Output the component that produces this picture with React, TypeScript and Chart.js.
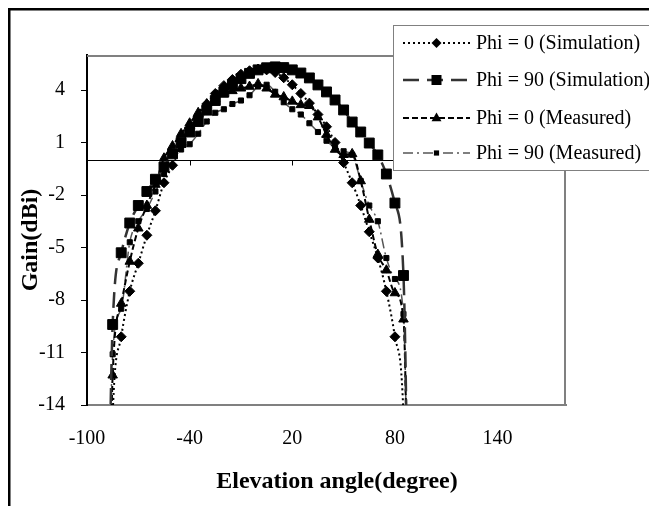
import React, { useEffect, useRef } from "react";
import { Chart, registerables } from "chart.js";

Chart.register(...registerables);

const angles = [-90, -85, -80, -75, -70, -65, -60, -55, -50, -45, -40, -35, -30, -25, -20, -15, -10, -5, 0, 5, 10, 15, 20, 25, 30, 35, 40, 45, 50, 55, 60, 65, 70, 75, 80, 85, 90];

const phi0Sim = [-40, -14.6, -10.1, -7.5, -5.9, -4.3, -2.9, -1.3, -0.3, 0.9, 1.8, 2.5, 3.2, 3.8, 4.25, 4.6, 4.9, 5.1, 5.2, 5.15, 5.0, 4.7, 4.3, 3.8, 3.25, 2.6, 1.9, 1.0, -0.15, -1.3, -2.6, -4.1, -5.6, -7.5, -10.1, -14.6, -40];
const phi90Sim = [-40, -9.4, -5.3, -3.6, -2.6, -1.8, -1.1, -0.4, 0.35, 1.0, 1.6, 2.2, 2.85, 3.4, 3.9, 4.3, 4.65, 4.95, 5.15, 5.27, 5.32, 5.28, 5.15, 4.97, 4.69, 4.29, 3.89, 3.43, 2.86, 2.17, 1.6, 0.97, 0.29, -0.8, -2.46, -6.6, -40];
const phi0Meas = [-40, -12.3, -8.2, -5.8, -3.9, -2.6, -1.4, 0.1, 0.8, 1.5, 2.1, 2.7, 3.2, 3.5, 3.75, 3.95, 4.1, 4.2, 4.35, 4.1, 3.75, 3.6, 3.35, 3.15, 3.1, 2.45, 1.45, 0.6, 0.3, 0.35, -1.2, -3.4, -5.4, -6.3, -7.6, -9.1, -40];
const phi90Meas = [-40, -11.1, -8.5, -4.7, -3.5, -2.8, -1.8, -0.8, 0.3, 0.6, 0.9, 1.5, 2.2, 2.7, 2.9, 3.2, 3.4, 3.7, 4.2, 4.3, 3.9, 3.3, 2.9, 2.6, 2.1, 1.6, 1.1, 0.7, 0.5, 0.3, -1.2, -2.6, -3.5, -5.6, -6.8, -8.8, -40];

const seriesLabels = ["Phi = 0 (Simulation)", "Phi = 90 (Simulation)", "Phi = 0 (Measured)", "Phi = 90 (Measured)"];
const xTicks = [-100, -40, 20, 80, 140];
const yTicks = [-14, -11, -8, -5, -2, 1, 4];
const xTitle = "Elevation angle(degree)";
const yTitle = "Gain(dBi)";

const FONT = "'Times New Roman', 'Liberation Serif', serif";
const W = 649;
const H = 498;

type Sty = { line: string; dash: number[]; lw: number; marker: string; size: number };
const styles: Sty[] = [
  { line: "#000000", dash: [2, 3], lw: 2, marker: "diamond", size: 5 },
  { line: "#333333", dash: [16, 8], lw: 2.5, marker: "square", size: 5 },
  { line: "#000000", dash: [6, 3], lw: 2, marker: "triangle", size: 5.5 },
  { line: "#555555", dash: [10, 4, 2, 4], lw: 1.5, marker: "smallsquare", size: 2.6 },
];

function drawMarker(ctx: CanvasRenderingContext2D, kind: string, x: number, y: number, s: number) {
  ctx.beginPath();
  if (kind === "diamond") {
    ctx.moveTo(x, y - s); ctx.lineTo(x + s, y); ctx.lineTo(x, y + s); ctx.lineTo(x - s, y); ctx.closePath();
  } else if (kind === "triangle") {
    ctx.moveTo(x, y - s); ctx.lineTo(x + s * 0.9, y + s * 0.6); ctx.lineTo(x - s * 0.9, y + s * 0.6); ctx.closePath();
  } else {
    ctx.rect(x - s, y - s, 2 * s, 2 * s);
  }
  ctx.fillStyle = "#000";
  ctx.fill();
}

const decorPlugin = {
  id: "decor",
  beforeDatasetsDraw(chart: any) {
    const { ctx, chartArea: a, scales } = chart;
    const x = scales.x;
    const y = scales.y;
    ctx.save();
    ctx.strokeStyle = "#808080";
    ctx.lineWidth = 2;
    ctx.beginPath();
    ctx.moveTo(a.left, a.top + 1);
    ctx.lineTo(a.right - 1, a.top + 1);
    ctx.lineTo(a.right - 1, a.bottom);
    ctx.stroke();
    const y0 = Math.round(y.getPixelForValue(0)) + 0.5;
    ctx.strokeStyle = "#000";
    ctx.lineWidth = 1;
    ctx.beginPath();
    ctx.moveTo(a.left, y0);
    ctx.lineTo(a.right, y0);
    for (const t of xTicks) {
      const px = Math.round(x.getPixelForValue(t)) + 0.5;
      ctx.moveTo(px, y0);
      ctx.lineTo(px, y0 + 5);
    }
    ctx.stroke();
    ctx.restore();
  },
  afterDraw(chart: any) {
    const { ctx, chartArea: a } = chart;
    ctx.save();
    // outer frame
    ctx.fillStyle = "#000";
    ctx.fillRect(0, 0, W, 2.5);
    ctx.fillRect(0, 0, 2.5, H);
    // axis titles
    ctx.fillStyle = "#000";
    ctx.font = `bold 24px ${FONT}`;
    ctx.textAlign = "center";
    ctx.textBaseline = "alphabetic";
    ctx.fillText(xTitle, 329, 480);
    ctx.save();
    ctx.translate(29, 232);
    ctx.rotate(-Math.PI / 2);
    ctx.textBaseline = "alphabetic";
    ctx.fillText(yTitle, 0, 0);
    ctx.restore();
    // legend
    const bx = 385, by = 17, bw = 262, bh = 145;
    ctx.fillStyle = "#fff";
    ctx.fillRect(bx, by, bw, bh);
    ctx.strokeStyle = "#808080";
    ctx.lineWidth = 1;
    ctx.strokeRect(bx + 0.5, by + 0.5, bw, bh);
    const rows = [35, 72, 110, 145];
    chart.data.datasets.forEach((ds: any, i: number) => {
      const st = styles[i];
      const ry = rows[i];
      ctx.strokeStyle = st.line;
      ctx.lineWidth = st.lw;
      ctx.setLineDash(st.dash);
      ctx.beginPath();
      ctx.moveTo(395, ry);
      ctx.lineTo(462, ry);
      ctx.stroke();
      ctx.setLineDash([]);
      drawMarker(ctx, st.marker, 428.5, ry, st.size);
      ctx.fillStyle = "#000";
      ctx.font = `20px ${FONT}`;
      ctx.textAlign = "left";
      ctx.textBaseline = "middle";
      ctx.fillText(ds.label, 468, ry + 1);
    });
    ctx.restore();
  },
};

const pointStyles = ["rectRot", "rect", "triangle", "rect"];
const pointRadii = [5, 7, 5.5, 3.6];
const seriesValues = [phi0Sim, phi90Sim, phi0Meas, phi90Meas];

export default function App() {
  const ref = useRef<HTMLCanvasElement>(null);
  useEffect(() => {
    if (!ref.current) return;
    const datasets = seriesValues.map((vals, i) => ({
      label: seriesLabels[i],
      data: angles.map((a, j) => ({ x: a, y: vals[j] })),
      showLine: true,
      borderColor: styles[i].line,
      borderWidth: styles[i].lw,
      borderDash: styles[i].dash,
      cubicInterpolationMode: "monotone" as const,
      pointStyle: pointStyles[i] as any,
      pointRadius: pointRadii[i],
      pointBackgroundColor: "#000",
      pointBorderColor: "#000",
      pointBorderWidth: 1,
      clip: 0,
    }));
    const chart = new Chart(ref.current, {
      type: "scatter",
      data: { datasets },
      options: {
        animation: false,
        responsive: false,
        layout: { padding: { top: 47, right: 91, left: 0, bottom: 0 } },
        plugins: { legend: { display: false }, tooltip: { enabled: false } },
        scales: {
          x: {
            type: "linear",
            min: -100,
            max: 180,
            afterBuildTicks: (s: any) => {
              s.ticks = xTicks.map((v) => ({ value: v }));
            },
            afterFit: (s: any) => {
              s.height = 101;
            },
            grid: { display: false, drawTicks: false },
            border: { display: true, color: "#808080", width: 2 },
            ticks: {
              padding: 22,
              color: "#000",
              font: { family: FONT, size: 20 },
              maxRotation: 0,
              autoSkip: false,
            },
          },
          y: {
            type: "linear",
            min: -14,
            max: 6,
            afterBuildTicks: (s: any) => {
              s.ticks = yTicks.map((v) => ({ value: v }));
            },
            afterFit: (s: any) => {
              s.width = 79;
            },
            grid: { display: true, drawOnChartArea: false, drawTicks: true, tickLength: 6, color: "#000", lineWidth: 1 },
            border: { display: true, color: "#000", width: 2 },
            ticks: {
              padding: 16,
              color: "#000",
              font: { family: FONT, size: 20 },
              autoSkip: false,
            },
          },
        },
      },
      plugins: [decorPlugin],
    });
    return () => chart.destroy();
  }, []);
  return <canvas ref={ref} width={W} height={H} style={{ display: "block" }} />;
}
